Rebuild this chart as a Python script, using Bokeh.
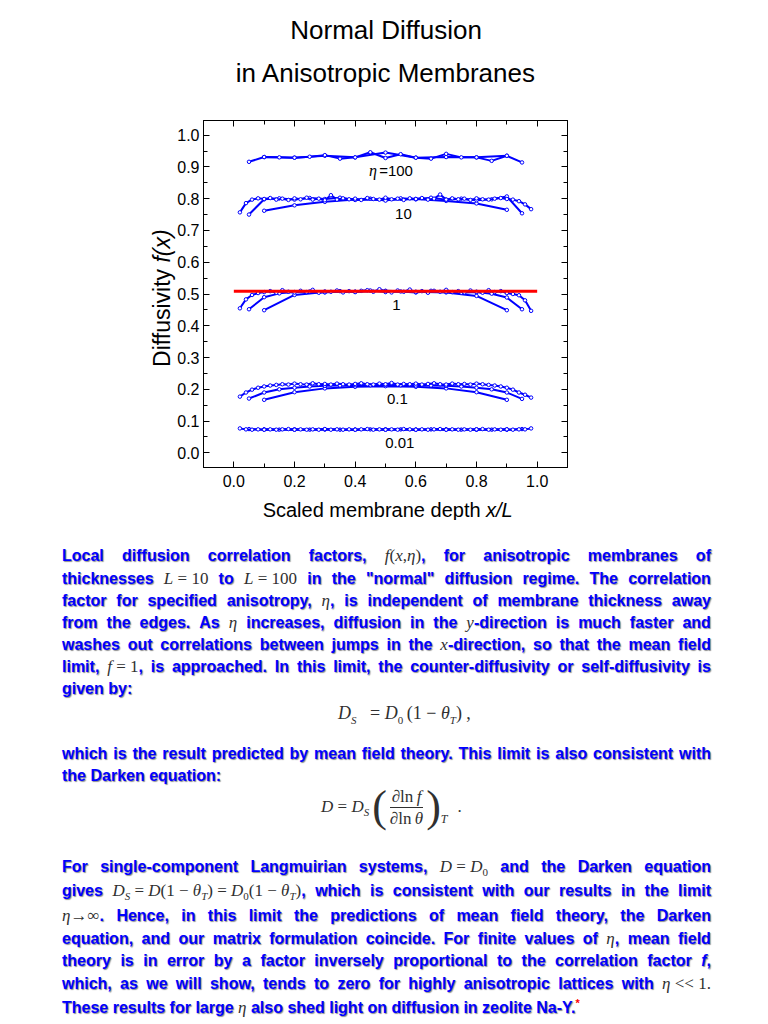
from math import pi
from bokeh.plotting import figure
from bokeh.models import (Range1d, LinearAxis, SingleIntervalTicker, PrintfTickFormatter,
                          CustomJSTickFormatter, Label, Div)
from bokeh.layouts import column
from bokeh.core.properties import value
from bokeh.embed import file_html
from bokeh.resources import INLINE

# ---------------- data ----------------
X10 = [0.1, 0.2, 0.3, 0.4, 0.5, 0.6, 0.7, 0.8, 0.9]
X20 = [0.05, 0.10, 0.15, 0.20, 0.25, 0.30, 0.35, 0.40, 0.45, 0.50, 0.55, 0.60, 0.65,
       0.70, 0.75, 0.80, 0.85, 0.90, 0.95]
X50 = [0.02, 0.04, 0.06, 0.08, 0.10, 0.12, 0.14, 0.16, 0.18, 0.20, 0.22, 0.24, 0.26,
       0.28, 0.30, 0.32, 0.34, 0.36, 0.38, 0.40, 0.42, 0.44, 0.46, 0.48, 0.50, 0.52,
       0.54, 0.56, 0.58, 0.60, 0.62, 0.64, 0.66, 0.68, 0.70, 0.72, 0.74, 0.76, 0.78,
       0.80, 0.82, 0.84, 0.86, 0.88, 0.90, 0.92, 0.94, 0.96, 0.98]

# eta = 100
F100_L10 = [0.931, 0.929, 0.935, 0.930, 0.945, 0.929, 0.931, 0.930, 0.935]
F100_L20 = [0.916, 0.931, 0.930, 0.929, 0.932, 0.937, 0.926, 0.930, 0.946, 0.928,
            0.940, 0.929, 0.926, 0.941, 0.930, 0.930, 0.919, 0.935, 0.914]
# eta = 10
F10_L10 = [0.762, 0.779, 0.790, 0.797, 0.796, 0.799, 0.793, 0.785, 0.765]
F10_L20 = [0.750, 0.798, 0.801, 0.797, 0.802, 0.799, 0.803, 0.796, 0.800, 0.794,
           0.801, 0.798, 0.803, 0.797, 0.800, 0.795, 0.798, 0.807, 0.754]
F10_L50 = [0.757, 0.786, 0.797, 0.801, 0.799, 0.802, 0.797, 0.800, 0.796, 0.801,
           0.798, 0.803, 0.797, 0.800, 0.795, 0.811, 0.797, 0.801, 0.798, 0.800,
           0.796, 0.802, 0.799, 0.797, 0.803, 0.798, 0.800, 0.796, 0.801, 0.799,
           0.802, 0.797, 0.800, 0.813, 0.797, 0.801, 0.798, 0.800, 0.796, 0.801,
           0.798, 0.797, 0.800, 0.802, 0.799, 0.797, 0.792, 0.782, 0.767]
# eta = 1
F1_L10 = [0.449, 0.497, 0.506, 0.507, 0.510, 0.507, 0.505, 0.494, 0.449]
F1_L20 = [0.452, 0.490, 0.502, 0.506, 0.508, 0.505, 0.509, 0.507, 0.511, 0.506,
          0.508, 0.505, 0.510, 0.507, 0.504, 0.506, 0.501, 0.489, 0.452]
F1_L50 = [0.455, 0.483, 0.497, 0.503, 0.506, 0.509, 0.504, 0.512, 0.507, 0.505,
          0.510, 0.506, 0.513, 0.504, 0.508, 0.507, 0.511, 0.505, 0.509, 0.506,
          0.510, 0.512, 0.507, 0.515, 0.509, 0.505, 0.511, 0.507, 0.514, 0.506,
          0.509, 0.504, 0.510, 0.507, 0.513, 0.506, 0.509, 0.505, 0.511, 0.507,
          0.504, 0.512, 0.506, 0.509, 0.503, 0.500, 0.496, 0.480, 0.447]
# eta = 0.1
F01_L10 = [0.167, 0.191, 0.203, 0.208, 0.210, 0.208, 0.203, 0.191, 0.167]
F01_L20 = [0.171, 0.190, 0.200, 0.205, 0.209, 0.211, 0.212, 0.213, 0.213, 0.214,
           0.213, 0.212, 0.212, 0.211, 0.209, 0.205, 0.200, 0.190, 0.170]
F01_L50 = [0.177, 0.190, 0.199, 0.205, 0.209, 0.212, 0.214, 0.216, 0.215, 0.218,
           0.216, 0.215, 0.219, 0.216, 0.217, 0.215, 0.218, 0.216, 0.215, 0.217,
           0.219, 0.216, 0.215, 0.218, 0.216, 0.220, 0.215, 0.217, 0.216, 0.218,
           0.215, 0.217, 0.219, 0.216, 0.215, 0.218, 0.216, 0.217, 0.215, 0.218,
           0.216, 0.214, 0.212, 0.209, 0.205, 0.199, 0.190, 0.183, 0.174]
# eta = 0.01
F001_L10 = [0.074, 0.073, 0.074, 0.073, 0.074, 0.073, 0.074, 0.073, 0.074]
F001_L20 = [0.075, 0.073, 0.073, 0.074, 0.073, 0.074, 0.073, 0.073, 0.074, 0.073,
            0.074, 0.073, 0.074, 0.073, 0.073, 0.074, 0.073, 0.073, 0.075]
F001_L50 = [0.077, 0.074, 0.073, 0.074, 0.073, 0.074, 0.073, 0.074, 0.075, 0.073,
            0.074, 0.073, 0.074, 0.073, 0.075, 0.073, 0.074, 0.073, 0.074, 0.073,
            0.074, 0.075, 0.073, 0.074, 0.073, 0.074, 0.073, 0.075, 0.074, 0.073,
            0.074, 0.073, 0.074, 0.075, 0.073, 0.074, 0.073, 0.074, 0.073, 0.074,
            0.075, 0.073, 0.074, 0.073, 0.074, 0.073, 0.074, 0.074, 0.077]

# mean-field limit line
MF_X = [0.0, 1.0]
MF_Y = [0.509, 0.509]

CURVES = [(X10, F100_L10), (X20, F100_L20),
          (X10, F10_L10), (X20, F10_L20), (X50, F10_L50),
          (X10, F1_L10), (X20, F1_L20), (X50, F1_L50),
          (X10, F01_L10), (X20, F01_L20), (X50, F01_L50),
          (X10, F001_L10), (X20, F001_L20), (X50, F001_L50)]

CURVE_LABELS = ["10", "1", "0.1", "0.01"]
TITLE_LINES = ["Normal Diffusion", "in Anisotropic Membranes"]
TICK_FMT = "%.1f"

# ---------------- figure ----------------
SANS = "Liberation Sans"
SERIF = "Liberation Serif"
FIG_W, FIG_H = 752, 520

p = figure(width=FIG_W, height=FIG_H, x_range=Range1d(-0.1, 1.1),
           y_range=Range1d(-0.046, 1.046), output_backend="svg",
           toolbar_location=None, title=None, x_axis_type=None, y_axis_type=None,
           min_border_left=203, min_border_right=185, min_border_top=120,
           min_border_bottom=53)
p.grid.visible = False
p.outline_line_color = "black"
p.background_fill_color = "white"
p.border_fill_color = "white"


def make_axis(interval, show_labels, standoff):
    fmt = (PrintfTickFormatter(format=TICK_FMT) if show_labels
           else CustomJSTickFormatter(code="return ''"))
    return LinearAxis(
        ticker=SingleIntervalTicker(interval=interval, num_minor_ticks=2),
        formatter=fmt,
        major_tick_in=6, major_tick_out=0, minor_tick_in=4, minor_tick_out=0,
        axis_line_color="black", major_tick_line_color="black",
        minor_tick_line_color="black",
        major_label_text_font=SANS, major_label_text_font_size="16px",
        major_label_text_color="black", major_label_standoff=standoff)


p.add_layout(make_axis(0.2, True, 7), "below")
p.add_layout(make_axis(0.1, True, 4), "left")
p.add_layout(make_axis(0.1, False, 0), "right")
p.add_layout(make_axis(0.2, False, 0), "above")

for xs, ys in CURVES:
    p.line(xs, ys, line_color="#0000ff", line_width=2)
    p.scatter(xs, ys, marker="circle", size=3.5, fill_color="white",
              line_color="#0000ff", line_width=1)

p.line(MF_X, MF_Y, line_color="#ff0000", line_width=3)

# curve labels (inside the frame)
p.text(x=[0.559, 0.536, 0.539, 0.547], y=[0.751, 0.466, 0.169, 0.0325],
       text=CURVE_LABELS, text_font=value(SANS), text_font_size="15px",
       text_color="black", text_align="center", text_baseline="middle")
p.add_layout(Label(x=0.459, y=0.888, text="η", text_font=SERIF,
                   text_font_style="italic", text_font_size="16px",
                   text_color="black", text_align="center", text_baseline="middle"))
p.add_layout(Label(x=0.479, y=0.888, text="=100", text_font=SANS,
                   text_font_size="15px", text_color="black", text_align="left",
                   text_baseline="middle"))

# titles (side panel above, placed in data coordinates)
p.add_layout(Label(x=0.502, y=1.331, text=TITLE_LINES[0], text_font=SANS,
                   text_font_size="26px", text_color="black", text_align="center",
                   text_baseline="middle"), "above")
p.add_layout(Label(x=0.502, y=1.1954, text=TITLE_LINES[1], text_font=SANS,
                   text_font_size="26px", text_color="black", text_align="center",
                   text_baseline="middle"), "above")

# axis titles (side panels, placed in data coordinates)
p.add_layout(Label(x=0.8134, y=-0.1787, text="Scaled membrane depth", text_font=SANS,
                   text_font_size="20px", text_color="black", text_align="right",
                   text_baseline="middle"), "below")
p.add_layout(Label(x=0.8315, y=-0.1787, text="x/L", text_font=SANS,
                   text_font_style="italic", text_font_size="20px",
                   text_color="black", text_align="left",
                   text_baseline="middle"), "right")
p.add_layout(Label(x=-0.2384, y=0.579, text="Diffusivity", text_font=SANS,
                   text_font_size="23px", text_color="black", text_align="right",
                   text_baseline="middle", angle=pi / 2), "left")
p.add_layout(Label(x=-0.2384, y=0.599, text="f(x)", text_font=SANS,
                   text_font_style="italic", text_font_size="23px",
                   text_color="black", text_align="left", text_baseline="middle",
                   angle=pi / 2), "left")

# ---------------- text block ----------------
DIV_TOP = 8 + FIG_H
DIV_H = 1016 - DIV_TOP
LEFT = 57
WIDTH = 649
BASE = ("font-family:'Liberation Sans',Arial,sans-serif;font-weight:bold;font-size:16px;"
        "color:#0000ff;line-height:22px;text-shadow:1px 1px 1px #8c8c8c;")
MS = ("font-family:'Liberation Serif','Times New Roman',serif;font-weight:normal;"
      "font-size:17px;color:#303030;text-shadow:none;")


def m(s, size=17):
    return f'<span style="{MS}font-size:{size}px;">{s}</span>'


def sub(s):
    return f'<sub style="font-size:11px;line-height:0;">{s}</sub>'


def top_of(yc):
    return round(yc - 7.5 - DIV_TOP, 1)


def jline(yc, text, maths=()):
    toks = text.split(" ")
    items = "".join(f'<span style="white-space:nowrap;">{t.format(*maths)}</span>'
                    for t in toks)
    return (f'<div style="position:absolute;left:{LEFT}px;top:{top_of(yc)}px;'
            f'width:{WIDTH}px;height:22px;display:flex;justify-content:space-between;'
            f'align-items:baseline;white-space:nowrap;">{items}</div>')


def lline(yc, html, left=LEFT):
    return (f'<div style="position:absolute;left:{left}px;top:{top_of(yc)}px;'
            f'white-space:nowrap;">{html}</div>')


ETA = m("<i>η</i>")
parts = []
parts.append(jline(555, "Local diffusion correlation factors, {0}, for anisotropic membranes of",
                   [m("<i>f</i>(<i>x</i>,<i>η</i>)")]))
parts.append(jline(578, 'thicknesses {0} to {1} in the "normal" diffusion regime. The correlation',
                   [m("<i>L</i> = 10"), m("<i>L</i> = 100")]))
parts.append(jline(600, "factor for specified anisotropy, {0}, is independent of membrane thickness away",
                   [ETA]))
parts.append(jline(622, "from the edges. As {0} increases, diffusion in the {1}-direction is much faster and",
                   [ETA, m("<i>y</i>")]))
parts.append(jline(644, "washes out correlations between jumps in the {0}-direction, so that the mean field",
                   [m("<i>x</i>")]))
parts.append(jline(666, "limit, {0}, is approached. In this limit, the counter-diffusivity or self-diffusivity is",
                   [m("<i>f</i> = 1")]))
parts.append(lline(688, "given by:"))
parts.append(lline(712, m("<i>D</i>" + sub("<i>S</i>") + " &nbsp;&nbsp;= <i>D</i>" + sub("0")
                          + "&thinsp;(1 − <i>θ</i>" + sub("<i>T</i>") + ")&nbsp;,", 18), left=333))
parts.append(jline(753, "which is the result predicted by mean field theory. This limit is also consistent with"))
parts.append(lline(775, "the Darken equation:"))

eq2 = (f'<div style="position:absolute;left:316px;top:{785 - DIV_TOP}px;height:50px;'
       f'display:flex;align-items:center;{MS}">'
       f'<span><i>D</i> = <i>D</i>{sub("<i>S</i>")}</span>'
       '<span style="font-size:44px;line-height:50px;margin:0 1px 0 3px;">(</span>'
       '<span style="display:inline-flex;flex-direction:column;align-items:center;line-height:21px;">'
       '<span style="padding:0 2px;border-bottom:1px solid #303030;">∂ln&thinsp;<i>f</i></span>'
       '<span style="padding:0 2px;">∂ln&thinsp;<i>θ</i></span></span>'
       '<span style="font-size:44px;line-height:50px;margin-left:1px;">)</span>'
       '<span style="align-self:flex-end;font-size:12px;font-style:italic;margin-bottom:2px;">T</span>'
       '<span style="margin-left:10px;">.</span></div>')
parts.append(eq2)

parts.append(jline(866, "For single-component Langmuirian systems, {0} and the Darken equation",
                   [m("<i>D</i> = <i>D</i>" + sub("0"))]))
parts.append(jline(890, "gives {0}, which is consistent with our results in the limit",
                   [m("<i>D</i>" + sub("<i>S</i>") + " = <i>D</i>(1 − <i>θ</i>" + sub("<i>T</i>")
                      + ") = <i>D</i>" + sub("0") + "(1 − <i>θ</i>" + sub("<i>T</i>") + ")")]))
parts.append(jline(915, "{0}. Hence, in this limit the predictions of mean field theory, the Darken",
                   [m("<i>η</i>→∞")]))
parts.append(jline(938, "equation, and our matrix formulation coincide. For finite values of {0}, mean field",
                   [ETA]))
parts.append(jline(960, "theory is in error by a factor inversely proportional to the correlation factor <i>f</i>,"))
parts.append(jline(983, "which, as we will show, tends to zero for highly anisotropic lattices with {0}",
                   [m("<i>η</i> &lt;&lt; 1.")]))
parts.append(lline(1007, "These results for large " + ETA + " also shed light on diffusion in zeolite Na-Y."
                   + '<sup style="color:#ff0000;font-size:11px;line-height:0;text-shadow:none;">*</sup>'))

html = (f'<div style="position:relative;width:{FIG_W}px;height:{DIV_H}px;{BASE}">'
        + "".join(parts) + "</div>")
text_div = Div(text=html, width=FIG_W, height=DIV_H)

layout = column(p, text_div)
open("out.html", "w").write(file_html(layout, INLINE))
